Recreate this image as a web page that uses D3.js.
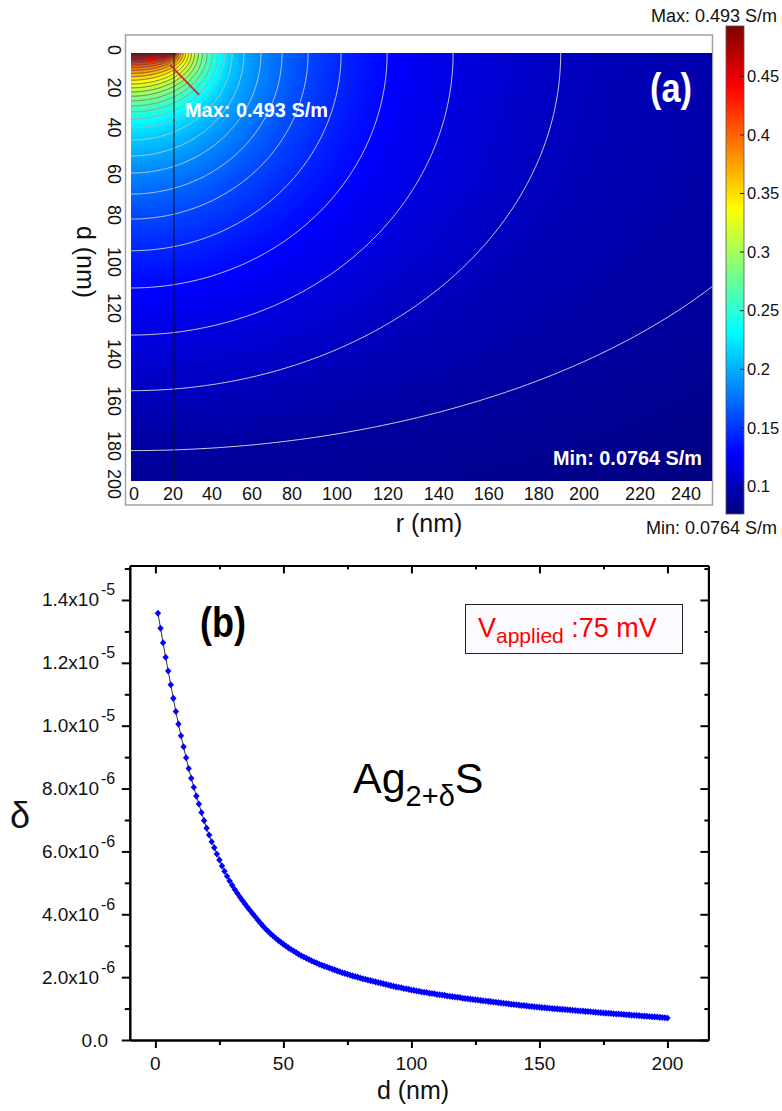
<!DOCTYPE html>
<html>
<head>
<meta charset="utf-8">
<script src="https://cdn.jsdelivr.net/npm/d3@7"></script>
<style>
  body { margin: 0; background: #fff; }
  svg { display: block; font-family: "Liberation Sans", Arial, sans-serif; }
</style>
</head>
<body>
<div id="chart"></div>
<script>
// ---- panel (a): conductivity map ----
var rTicks = [0, 20, 40, 60, 80, 100, 120, 140, 160, 180, 200, 220, 240];
var dTicks = [0, 20, 40, 60, 80, 100, 120, 140, 160, 180, 200];
var sigmaTicks = [0.1, 0.15, 0.2, 0.25, 0.3, 0.35, 0.4, 0.45];
var sigmaMin = 0.0764;
var sigmaMax = 0.493;

// contour levels (S/m), where each one meets the surface (r, nm) and the axis (d, nm)
var contourLevels = [0.0898, 0.1033, 0.1167, 0.1302, 0.1436, 0.1570, 0.1705, 0.1839, 0.1974, 0.2108,
                     0.2242, 0.2377, 0.2511, 0.2646, 0.2780, 0.2914, 0.3049, 0.3183, 0.3317, 0.3452,
                     0.3586, 0.3721, 0.3855, 0.3989, 0.4124, 0.4258, 0.4393, 0.4527, 0.4661, 0.4796];
var contourR = [309, 184.9, 138.6, 110.2, 90.4, 76.2, 65.0, 55.9, 48.6, 43.5,
                40.3, 37.5, 35.0, 32.8, 30.8, 29.0, 27.4, 26.0, 24.7, 23.5,
                22.4, 21.4, 20.6, 20.0, 19.5, 19.1, 18.8, 18.65, 18.55, 18.5];
var contourD = [185.8, 157.8, 131.8, 109.8, 92.4, 77.6, 65.9, 56.1, 48.1, 40.7,
                35.0, 30.8, 27.5, 24.8, 22.4, 20.2, 18.2, 16.3, 14.5, 12.7,
                11.0, 9.5, 8.1, 6.8, 5.6, 4.5, 3.5, 2.5, 1.6, 0.8];
var tipRadius = 18.5;
var maxPoint = [16.8, 5.6];
var maxLabelAt = [29.3, 19.6];

// ---- panel (b): delta vs depth ----
var depths = [1,2,3,4,5,6,7,8,9,10,11,12,13,14,15,16,17,18,19,20,
  21,22,23,24,25,26,27,28,29,30,31,32,33,34,35,36,37,38,39,40,
  41,42,43,44,45,46,47,48,49,50,51,52,53,54,55,56,57,58,59,60,
  61,62,63,64,65,66,67,68,69,70,71,72,73,74,75,76,77,78,79,80,
  81,82,83,84,85,86,87,88,89,90,91,92,93,94,95,96,97,98,99,100,
  101,102,103,104,105,106,107,108,109,110,111,112,113,114,115,116,117,118,119,120,
  121,122,123,124,125,126,127,128,129,130,131,132,133,134,135,136,137,138,139,140,
  141,142,143,144,145,146,147,148,149,150,151,152,153,154,155,156,157,158,159,160,
  161,162,163,164,165,166,167,168,169,170,171,172,173,174,175,176,177,178,179,180,
  181,182,183,184,185,186,187,188,189,190,191,192,193,194,195,196,197,198,199,200];
// delta in units of 1e-6
var deltaValues = [13.58, 13.10, 12.64, 12.18, 11.74, 11.30, 10.87, 10.45, 10.05, 9.68,
  9.33, 8.98, 8.64, 8.33, 8.04, 7.76, 7.51, 7.24, 6.98, 6.74,
  6.52, 6.31, 6.12, 5.92, 5.73, 5.54, 5.37, 5.21, 5.06, 4.92,
  4.79, 4.67, 4.55, 4.44, 4.33, 4.22, 4.12, 4.02, 3.92, 3.82,
  3.72, 3.63, 3.54, 3.46, 3.38, 3.31, 3.24, 3.17, 3.11, 3.05,
  2.99, 2.93, 2.88, 2.83, 2.78, 2.73, 2.68, 2.64, 2.60, 2.56,
  2.52, 2.48, 2.45, 2.41, 2.38, 2.35, 2.32, 2.29, 2.26, 2.23,
  2.20, 2.17, 2.14, 2.12, 2.09, 2.07, 2.04, 2.02, 2.00, 1.97,
  1.95, 1.93, 1.91, 1.89, 1.87, 1.85, 1.83, 1.81, 1.79, 1.77,
  1.75, 1.73, 1.71, 1.69, 1.68, 1.66, 1.64, 1.63, 1.61, 1.59,
  1.58, 1.56, 1.55, 1.53, 1.52, 1.51, 1.49, 1.48, 1.47, 1.45,
  1.44, 1.43, 1.42, 1.40, 1.39, 1.38, 1.37, 1.36, 1.35, 1.33,
  1.32, 1.31, 1.30, 1.29, 1.28, 1.27, 1.26, 1.25, 1.24, 1.23,
  1.22, 1.21, 1.20, 1.19, 1.18, 1.17, 1.16, 1.15, 1.14, 1.13,
  1.12, 1.11, 1.10, 1.095, 1.085, 1.075, 1.065, 1.055, 1.05, 1.04,
  1.03, 1.025, 1.02, 1.01, 1.005, 0.995, 0.99, 0.98, 0.975, 0.97,
  0.96, 0.955, 0.945, 0.94, 0.93, 0.925, 0.92, 0.91, 0.905, 0.90,
  0.89, 0.885, 0.875, 0.87, 0.86, 0.855, 0.85, 0.845, 0.835, 0.83,
  0.825, 0.82, 0.81, 0.805, 0.80, 0.79, 0.785, 0.78, 0.775, 0.765,
  0.76, 0.755, 0.75, 0.74, 0.735, 0.73, 0.72, 0.715, 0.71, 0.70];
var deltaTicks = [0, 2, 4, 6, 8, 10, 12, 14];
var deltaMinor = [1, 3, 5, 7, 9, 11, 13, 15];
var deltaTickText = ["0.0", "2.0", "4.0", "6.0", "8.0", "1.0", "1.2", "1.4"];
var deltaTickExp = ["", "-6", "-6", "-6", "-6", "-5", "-5", "-5"];
var depthTicks = [0, 50, 100, 150, 200];
var depthMinor = [25, 75, 125, 175];


var svg = d3.select('#chart').append('svg')
    .attr('width', 782)
    .attr('height', 1111);

var defs = svg.append('defs');

// ================= panel (a) =================
var a = {left: 131, right: 712, top: 53, bottom: 481};

var xR = d3.scaleLinear().domain([0, 250]).range([a.left, a.right]);
var yD = d3.scaleLinear().domain([0, 200]).range([a.top, a.bottom]);

// the tick labels of the source figure are not evenly spaced
var xRLabel = d3.scaleLinear().domain(rTicks)
    .range([134, 173, 212, 252, 292, 337, 388, 438.7, 488.7, 538.7, 584, 640, 686]);
var yDLabel = d3.scaleLinear().domain(dTicks)
    .range([50, 87.5, 127.5, 174, 215, 262, 308, 354, 401, 446, 484]);

var jetStops = [0, 0.125, 0.375, 0.625, 0.875, 1];
var jetColors = ['#00007f', '#0000ff', '#00ffff', '#ffff00', '#ff0000', '#7f0000'];
var jet = d3.scaleLinear()
    .domain(jetStops.map(function(t) { return sigmaMin + t * (sigmaMax - sigmaMin); }))
    .range(jetColors)
    .clamp(true);

svg.append('rect')
    .attr('x', 125.5).attr('y', 35)
    .attr('width', 587).attr('height', 470)
    .attr('fill', '#fff')
    .attr('stroke', '#a3a3a3')
    .attr('stroke-width', 1.5);

// field between contours, rendered to a canvas
var n = contourLevels.length;
var sCorner = Math.hypot(250 / contourR[0], 200 / contourD[0]);

function sigmaAt(r, d) {
  var prev = 0;
  for (var i = 0; i < n; i++) {
    var s = Math.hypot(r / contourR[i], d / contourD[i]);
    if (s > 1) {
      if (i === 0) {
        var t = Math.min(1, (s - 1) / (sCorner - 1));
        return contourLevels[0] - t * (contourLevels[0] - sigmaMin);
      }
      var u = (1 - prev) / (s - prev);
      return contourLevels[i - 1] + u * (contourLevels[i] - contourLevels[i - 1]);
    }
    prev = s;
  }
  return contourLevels[n - 1] + (1 - prev) * (sigmaMax - contourLevels[n - 1]);
}

var lut = d3.range(512).map(function(i) {
  return d3.rgb(jet(sigmaMin + i / 511 * (sigmaMax - sigmaMin)));
});

var w = a.right - a.left, h = a.bottom - a.top;
var canvas = document.createElement('canvas');
canvas.width = w;
canvas.height = h;
var ctx = canvas.getContext('2d');
var img = ctx.createImageData(w, h);
for (var j = 0; j < h; j++) {
  var dv = yD.invert(a.top + j + 0.5);
  for (var i = 0; i < w; i++) {
    var v = sigmaAt(xR.invert(a.left + i + 0.5), dv);
    var idx = Math.max(0, Math.min(511, Math.round((v - sigmaMin) / (sigmaMax - sigmaMin) * 511)));
    var c = lut[idx], p = (j * w + i) * 4;
    img.data[p] = c.r; img.data[p + 1] = c.g; img.data[p + 2] = c.b; img.data[p + 3] = 255;
  }
}
ctx.putImageData(img, 0, 0);

svg.append('image')
    .attr('x', a.left).attr('y', a.top)
    .attr('width', w).attr('height', h)
    .attr('preserveAspectRatio', 'none')
    .attr('href', canvas.toDataURL());

defs.append('clipPath').attr('id', 'clipA')
  .append('rect')
    .attr('x', a.left).attr('y', a.top)
    .attr('width', w).attr('height', h);

var lineColor = d3.scaleLinear()
    .domain([sigmaMin, 0.21, 0.3, sigmaMax])
    .range(['#e4e4e4', '#c4c4c4', '#5c5c5c', '#3c3c3c']);

var arc = d3.line()
    .x(function(p) { return xR(p[0]); })
    .y(function(p) { return yD(p[1]); });

svg.append('g')
    .attr('clip-path', 'url(#clipA)')
  .selectAll('path')
    .data(contourLevels)
  .enter().append('path')
    .attr('fill', 'none')
    .attr('stroke', function(d) { return lineColor(d); })
    .attr('stroke-width', 0.9)
    .attr('d', function(d, i) {
      var pts = d3.range(0, 181).map(function(k) {
        var t = k / 180 * Math.PI / 2;
        return [contourR[i] * Math.cos(t), contourD[i] * Math.sin(t)];
      });
      return arc(pts);
    });

// tip edge
svg.append('line')
    .attr('x1', xR(tipRadius)).attr('x2', xR(tipRadius))
    .attr('y1', yD(0)).attr('y2', yD(200))
    .attr('stroke', '#111')
    .attr('stroke-width', 1);

svg.append('line')
    .attr('x1', xR(maxPoint[0])).attr('y1', yD(maxPoint[1]))
    .attr('x2', xR(maxLabelAt[0])).attr('y2', yD(maxLabelAt[1]))
    .attr('stroke', '#e0202a')
    .attr('stroke-width', 1.8);

svg.append('text')
    .attr('x', 185).attr('y', 117)
    .attr('fill', '#fff')
    .attr('font-weight', 'bold')
    .attr('font-size', 21)
    .attr('textLength', 143)
    .attr('lengthAdjust', 'spacingAndGlyphs')
    .text('Max: 0.493 S/m');

svg.append('text')
    .attr('x', 553).attr('y', 465)
    .attr('fill', '#fff')
    .attr('font-weight', 'bold')
    .attr('font-size', 21)
    .attr('textLength', 149)
    .attr('lengthAdjust', 'spacingAndGlyphs')
    .text('Min: 0.0764 S/m');

svg.append('text')
    .attr('x', 650).attr('y', 102)
    .attr('fill', '#fff')
    .attr('font-weight', 'bold')
    .attr('font-size', 41)
    .attr('textLength', 42)
    .attr('lengthAdjust', 'spacingAndGlyphs')
    .text('(a)');

// axes of (a)
svg.append('g').selectAll('text')
    .data(rTicks)
  .enter().append('text')
    .attr('x', function(d) { return xRLabel(d); })
    .attr('y', 499.5)
    .attr('text-anchor', 'middle')
    .attr('font-size', 18)
    .attr('fill', '#111')
    .text(function(d) { return d; });

svg.append('g').selectAll('text')
    .data(dTicks)
  .enter().append('text')
    .attr('transform', function(d) { return 'translate(114,' + yDLabel(d) + ') rotate(90)'; })
    .attr('text-anchor', 'middle')
    .attr('dy', '0.35em')
    .attr('font-size', 18)
    .attr('fill', '#111')
    .text(function(d) { return d; });

svg.append('text')
    .attr('x', 429).attr('y', 532)
    .attr('text-anchor', 'middle')
    .attr('font-size', 25)
    .attr('fill', '#111')
    .text('r (nm)');

svg.append('text')
    .attr('transform', 'translate(86,262) rotate(90)')
    .attr('text-anchor', 'middle')
    .attr('dy', '0.35em')
    .attr('font-size', 25)
    .attr('fill', '#111')
    .text('d (nm)');

// colour bar
var yC = d3.scaleLinear().domain([sigmaMin, sigmaMax]).range([514, 26]);
var grad = defs.append('linearGradient')
    .attr('id', 'jetGrad')
    .attr('x1', 0).attr('y1', 1).attr('x2', 0).attr('y2', 0);
grad.selectAll('stop')
    .data(jetStops)
  .enter().append('stop')
    .attr('offset', function(d) { return d; })
    .attr('stop-color', function(d, i) { return jetColors[i]; });

svg.append('rect')
    .attr('x', 726).attr('y', yC(sigmaMax))
    .attr('width', 18).attr('height', yC(sigmaMin) - yC(sigmaMax))
    .attr('fill', 'url(#jetGrad)')
    .attr('stroke', '#555')
    .attr('stroke-width', 0.8);

var cb = svg.append('g').selectAll('g')
    .data(sigmaTicks)
  .enter().append('g')
    .attr('transform', function(d) { return 'translate(0,' + yC(d) + ')'; });
cb.append('line')
    .attr('x1', 740).attr('x2', 744)
    .attr('stroke', '#222')
    .attr('stroke-width', 1);
cb.append('text')
    .attr('x', 747)
    .attr('dy', '0.35em')
    .attr('font-size', 16.5)
    .attr('fill', '#111')
    .text(function(d) { return d; });

svg.append('text')
    .attr('x', 777).attr('y', 21.5)
    .attr('text-anchor', 'end')
    .attr('font-size', 18)
    .attr('fill', '#111')
    .text('Max: 0.493 S/m');

svg.append('text')
    .attr('x', 777).attr('y', 534)
    .attr('text-anchor', 'end')
    .attr('font-size', 18)
    .attr('fill', '#111')
    .text('Min: 0.0764 S/m');

// ================= panel (b) =================
var b = {left: 129.8, right: 708.4, top: 565.4, bottom: 1040};
var xB = d3.scaleLinear().domain([-10, 216]).range([b.left, b.right]);
var yB = d3.scaleLinear().domain([0, 15.1]).range([b.bottom, b.top]);

function styleAxis(g) {
  g.select('.domain').attr('stroke', '#000').attr('stroke-width', 2);
  g.selectAll('.tick line').attr('stroke', '#000').attr('stroke-width', 2);
  g.selectAll('.tick text').remove();
}

[[d3.axisLeft, b.left, deltaTicks, 8], [d3.axisLeft, b.left, deltaMinor, 5],
 [d3.axisLeft, b.right, deltaTicks, 8], [d3.axisLeft, b.right, deltaMinor, 4]].forEach(function(s) {
  svg.append('g')
      .attr('transform', 'translate(' + s[1] + ',0)')
      .call(s[0](yB).tickValues(s[2]).tickSize(s[3]).tickSizeOuter(0))
      .call(styleAxis);
});

[[b.bottom, depthTicks, 8], [b.bottom, depthMinor, 5],
 [b.top, depthTicks, 8], [b.top, depthMinor, 4]].forEach(function(s) {
  svg.append('g')
      .attr('transform', 'translate(0,' + s[0] + ')')
      .call(d3.axisBottom(xB).tickValues(s[1]).tickSize(s[2]).tickSizeOuter(0))
      .call(styleAxis);
});

var yl = svg.append('g').selectAll('g')
    .data(deltaTicks)
  .enter().append('g')
    .attr('font-size', 19)
    .attr('fill', '#111');
yl.append('text')
    .attr('x', function(d, i) { return deltaTickExp[i] ? 99 : 108; })
    .attr('y', function(d) { return yB(d) + 6.5; })
    .attr('text-anchor', 'end')
    .text(function(d, i) { return deltaTickExp[i] ? deltaTickText[i] + 'x10' : deltaTickText[i]; });
yl.append('text')
    .attr('x', 101)
    .attr('y', function(d) { return yB(d) - 4.5; })
    .attr('font-size', 16)
    .text(function(d, i) { return deltaTickExp[i]; });

svg.append('g').selectAll('text')
    .data(depthTicks)
  .enter().append('text')
    .attr('x', function(d) { return xB(d); })
    .attr('y', 1070)
    .attr('text-anchor', 'middle')
    .attr('font-size', 19)
    .attr('fill', '#111')
    .text(function(d) { return d; });

svg.append('text')
    .attr('x', 413).attr('y', 1099)
    .attr('text-anchor', 'middle')
    .attr('font-size', 25)
    .attr('fill', '#111')
    .text('d (nm)');

svg.append('text')
    .attr('x', 20).attr('y', 828)
    .attr('text-anchor', 'middle')
    .attr('font-size', 36)
    .attr('fill', '#111')
    .text('δ');

// curve
svg.append('path')
    .datum(depths)
    .attr('fill', 'none')
    .attr('stroke', '#000')
    .attr('stroke-width', 0.8)
    .attr('d', d3.line()
      .x(function(d) { return xB(d); })
      .y(function(d, i) { return yB(deltaValues[i]); }));

var diamond = d3.symbol().type(d3.symbolSquare).size(25);
svg.append('g').selectAll('path')
    .data(depths)
  .enter().append('path')
    .attr('d', diamond)
    .attr('fill', '#0000ff')
    .attr('transform', function(d, i) {
      return 'translate(' + xB(d) + ',' + yB(deltaValues[i]) + ') scale(0.9,1) rotate(45)';
    });

svg.append('text')
    .attr('x', 223).attr('y', 637)
    .attr('text-anchor', 'middle')
    .attr('font-weight', 'bold')
    .attr('font-size', 42)
    .attr('textLength', 46)
    .attr('lengthAdjust', 'spacingAndGlyphs')
    .attr('fill', '#000')
    .text('(b)');

var ag = svg.append('text')
    .attr('x', 353).attr('y', 793)
    .attr('font-size', 43)
    .attr('fill', '#000');
ag.append('tspan').text('Ag');
ag.append('tspan').attr('font-size', 29).attr('dy', 13).text('2+δ');
ag.append('tspan').attr('dy', -13).text('S');

svg.append('rect')
    .attr('x', 465.5).attr('y', 604.5)
    .attr('width', 217).attr('height', 49)
    .attr('fill', '#fbfbff')
    .attr('stroke', '#222')
    .attr('stroke-width', 1);

var leg = svg.append('text')
    .attr('x', 478).attr('y', 637)
    .attr('font-size', 27)
    .attr('fill', '#ff0000');
leg.append('tspan').text('V');
leg.append('tspan').attr('font-size', 21).attr('dy', 6).text('applied');
leg.append('tspan').attr('dy', -6).text(' :75 mV');
</script>
</body>
</html>
